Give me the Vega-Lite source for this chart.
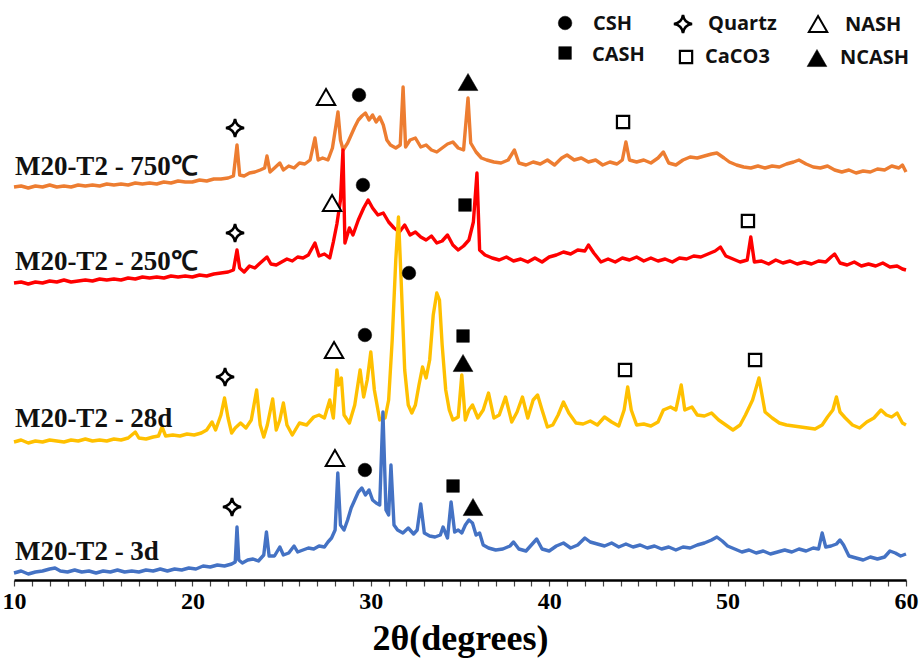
{
  "$schema": "https://vega.github.io/schema/vega-lite/v6.json",
  "width": 892,
  "height": 580,
  "autosize": {"type": "none"},
  "padding": {"left": 14, "top": 0, "right": 13, "bottom": 83},
  "background": "white",
  "config": {"view": {"stroke": null}},
  "datasets": {
    "patterns": [
      {"sample":"750","theta":10.0,"counts":393},{"sample":"750","theta":10.4,"counts":394},{"sample":"750","theta":10.8,"counts":392},{"sample":"750","theta":11.2,"counts":394},{"sample":"750","theta":11.6,"counts":393},{"sample":"750","theta":12.0,"counts":395},{"sample":"750","theta":12.4,"counts":393},{"sample":"750","theta":12.8,"counts":394},{"sample":"750","theta":13.2,"counts":393},{"sample":"750","theta":13.6,"counts":395},{"sample":"750","theta":14.0,"counts":394},{"sample":"750","theta":14.4,"counts":395},{"sample":"750","theta":14.8,"counts":394},{"sample":"750","theta":15.2,"counts":396},{"sample":"750","theta":15.6,"counts":395},{"sample":"750","theta":16.0,"counts":396},{"sample":"750","theta":16.4,"counts":395},{"sample":"750","theta":16.8,"counts":397},{"sample":"750","theta":17.2,"counts":396},{"sample":"750","theta":17.6,"counts":397},{"sample":"750","theta":18.0,"counts":396},{"sample":"750","theta":18.4,"counts":398},{"sample":"750","theta":18.8,"counts":397},{"sample":"750","theta":19.2,"counts":399},{"sample":"750","theta":19.6,"counts":398},{"sample":"750","theta":20.0,"counts":398},{"sample":"750","theta":20.4,"counts":400},{"sample":"750","theta":20.8,"counts":399},{"sample":"750","theta":21.2,"counts":401},{"sample":"750","theta":21.6,"counts":401},{"sample":"750","theta":22.0,"counts":402},{"sample":"750","theta":22.3,"counts":404},{"sample":"750","theta":22.5,"counts":435},{"sample":"750","theta":22.65,"counts":405},{"sample":"750","theta":22.9,"counts":404},{"sample":"750","theta":23.2,"counts":407},{"sample":"750","theta":23.5,"counts":408},{"sample":"750","theta":23.8,"counts":410},{"sample":"750","theta":24.05,"counts":412},{"sample":"750","theta":24.18,"counts":424},{"sample":"750","theta":24.35,"counts":408},{"sample":"750","theta":24.6,"counts":412},{"sample":"750","theta":24.9,"counts":417},{"sample":"750","theta":25.1,"counts":410},{"sample":"750","theta":25.4,"counts":414},{"sample":"750","theta":25.7,"counts":412},{"sample":"750","theta":26.0,"counts":417},{"sample":"750","theta":26.3,"counts":416},{"sample":"750","theta":26.6,"counts":420},{"sample":"750","theta":26.87,"counts":442},{"sample":"750","theta":27.05,"counts":420},{"sample":"750","theta":27.3,"counts":422},{"sample":"750","theta":27.6,"counts":420},{"sample":"750","theta":27.85,"counts":432},{"sample":"750","theta":28.05,"counts":455},{"sample":"750","theta":28.16,"counts":468},{"sample":"750","theta":28.3,"counts":440},{"sample":"750","theta":28.45,"counts":430},{"sample":"750","theta":28.7,"counts":437},{"sample":"750","theta":28.9,"counts":445},{"sample":"750","theta":29.1,"counts":453},{"sample":"750","theta":29.3,"counts":460},{"sample":"750","theta":29.5,"counts":464},{"sample":"750","theta":29.7,"counts":467},{"sample":"750","theta":29.9,"counts":460},{"sample":"750","theta":30.1,"counts":465},{"sample":"750","theta":30.3,"counts":458},{"sample":"750","theta":30.5,"counts":463},{"sample":"750","theta":30.7,"counts":455},{"sample":"750","theta":30.9,"counts":440},{"sample":"750","theta":31.1,"counts":435},{"sample":"750","theta":31.4,"counts":432},{"sample":"750","theta":31.65,"counts":435},{"sample":"750","theta":31.81,"counts":493},{"sample":"750","theta":31.95,"counts":433},{"sample":"750","theta":32.2,"counts":440},{"sample":"750","theta":32.5,"counts":442},{"sample":"750","theta":32.8,"counts":433},{"sample":"750","theta":33.1,"counts":435},{"sample":"750","theta":33.4,"counts":430},{"sample":"750","theta":33.7,"counts":428},{"sample":"750","theta":34.0,"counts":432},{"sample":"750","theta":34.3,"counts":436},{"sample":"750","theta":34.6,"counts":438},{"sample":"750","theta":34.9,"counts":432},{"sample":"750","theta":35.2,"counts":430},{"sample":"750","theta":35.45,"counts":482},{"sample":"750","theta":35.6,"counts":437},{"sample":"750","theta":35.9,"counts":428},{"sample":"750","theta":36.2,"counts":422},{"sample":"750","theta":36.5,"counts":420},{"sample":"750","theta":36.9,"counts":418},{"sample":"750","theta":37.3,"counts":417},{"sample":"750","theta":37.7,"counts":420},{"sample":"750","theta":38.05,"counts":430},{"sample":"750","theta":38.3,"counts":417},{"sample":"750","theta":38.7,"counts":415},{"sample":"750","theta":39.1,"counts":418},{"sample":"750","theta":39.5,"counts":416},{"sample":"750","theta":39.9,"counts":420},{"sample":"750","theta":40.3,"counts":415},{"sample":"750","theta":40.7,"counts":422},{"sample":"750","theta":41.0,"counts":425},{"sample":"750","theta":41.4,"counts":420},{"sample":"750","theta":41.8,"counts":422},{"sample":"750","theta":42.2,"counts":418},{"sample":"750","theta":42.6,"counts":420},{"sample":"750","theta":43.0,"counts":415},{"sample":"750","theta":43.4,"counts":418},{"sample":"750","theta":43.8,"counts":416},{"sample":"750","theta":44.1,"counts":420},{"sample":"750","theta":44.3,"counts":438},{"sample":"750","theta":44.5,"counts":420},{"sample":"750","theta":44.9,"counts":418},{"sample":"750","theta":45.3,"counts":420},{"sample":"750","theta":45.7,"counts":417},{"sample":"750","theta":46.1,"counts":422},{"sample":"750","theta":46.4,"counts":428},{"sample":"750","theta":46.7,"counts":417},{"sample":"750","theta":47.1,"counts":415},{"sample":"750","theta":47.5,"counts":420},{"sample":"750","theta":47.9,"counts":423},{"sample":"750","theta":48.3,"counts":422},{"sample":"750","theta":48.7,"counts":424},{"sample":"750","theta":49.1,"counts":426},{"sample":"750","theta":49.4,"counts":427},{"sample":"750","theta":49.8,"counts":422},{"sample":"750","theta":50.1,"counts":418},{"sample":"750","theta":50.5,"counts":415},{"sample":"750","theta":50.9,"counts":413},{"sample":"750","theta":51.3,"counts":412},{"sample":"750","theta":51.7,"counts":414},{"sample":"750","theta":52.1,"counts":412},{"sample":"750","theta":52.5,"counts":414},{"sample":"750","theta":52.9,"counts":413},{"sample":"750","theta":53.3,"counts":416},{"sample":"750","theta":53.7,"counts":418},{"sample":"750","theta":54.0,"counts":420},{"sample":"750","theta":54.4,"counts":416},{"sample":"750","theta":54.8,"counts":413},{"sample":"750","theta":55.2,"counts":412},{"sample":"750","theta":55.6,"counts":414},{"sample":"750","theta":56.0,"counts":410},{"sample":"750","theta":56.4,"counts":408},{"sample":"750","theta":56.8,"counts":410},{"sample":"750","theta":57.2,"counts":407},{"sample":"750","theta":57.6,"counts":409},{"sample":"750","theta":58.0,"counts":408},{"sample":"750","theta":58.4,"counts":411},{"sample":"750","theta":58.8,"counts":410},{"sample":"750","theta":59.2,"counts":414},{"sample":"750","theta":59.6,"counts":412},{"sample":"750","theta":59.8,"counts":415},{"sample":"750","theta":60.0,"counts":408},

      {"sample":"250","theta":10.0,"counts":297},{"sample":"250","theta":10.4,"counts":298},{"sample":"250","theta":10.8,"counts":296},{"sample":"250","theta":11.2,"counts":298},{"sample":"250","theta":11.6,"counts":297},{"sample":"250","theta":12.0,"counts":299},{"sample":"250","theta":12.4,"counts":298},{"sample":"250","theta":12.8,"counts":300},{"sample":"250","theta":13.2,"counts":298},{"sample":"250","theta":13.6,"counts":299},{"sample":"250","theta":14.0,"counts":300},{"sample":"250","theta":14.4,"counts":299},{"sample":"250","theta":14.8,"counts":301},{"sample":"250","theta":15.2,"counts":300},{"sample":"250","theta":15.6,"counts":301},{"sample":"250","theta":16.0,"counts":300},{"sample":"250","theta":16.4,"counts":302},{"sample":"250","theta":16.8,"counts":301},{"sample":"250","theta":17.2,"counts":303},{"sample":"250","theta":17.6,"counts":302},{"sample":"250","theta":18.0,"counts":303},{"sample":"250","theta":18.4,"counts":302},{"sample":"250","theta":18.8,"counts":304},{"sample":"250","theta":19.2,"counts":303},{"sample":"250","theta":19.6,"counts":304},{"sample":"250","theta":20.0,"counts":303},{"sample":"250","theta":20.4,"counts":305},{"sample":"250","theta":20.8,"counts":304},{"sample":"250","theta":21.2,"counts":306},{"sample":"250","theta":21.6,"counts":307},{"sample":"250","theta":22.0,"counts":308},{"sample":"250","theta":22.3,"counts":310},{"sample":"250","theta":22.5,"counts":330},{"sample":"250","theta":22.65,"counts":312},{"sample":"250","theta":22.9,"counts":308},{"sample":"250","theta":23.2,"counts":314},{"sample":"250","theta":23.5,"counts":312},{"sample":"250","theta":23.8,"counts":317},{"sample":"250","theta":24.18,"counts":323},{"sample":"250","theta":24.4,"counts":316},{"sample":"250","theta":24.7,"counts":315},{"sample":"250","theta":25.0,"counts":318},{"sample":"250","theta":25.3,"counts":321},{"sample":"250","theta":25.6,"counts":319},{"sample":"250","theta":25.9,"counts":323},{"sample":"250","theta":26.2,"counts":322},{"sample":"250","theta":26.5,"counts":325},{"sample":"250","theta":26.87,"counts":337},{"sample":"250","theta":27.1,"counts":324},{"sample":"250","theta":27.4,"counts":326},{"sample":"250","theta":27.7,"counts":322},{"sample":"250","theta":27.9,"counts":338},{"sample":"250","theta":28.1,"counts":356},{"sample":"250","theta":28.3,"counts":380},{"sample":"250","theta":28.44,"counts":430},{"sample":"250","theta":28.55,"counts":337},{"sample":"250","theta":28.8,"counts":352},{"sample":"250","theta":29.0,"counts":345},{"sample":"250","theta":29.3,"counts":360},{"sample":"250","theta":29.6,"counts":372},{"sample":"250","theta":29.85,"counts":380},{"sample":"250","theta":30.1,"counts":372},{"sample":"250","theta":30.4,"counts":365},{"sample":"250","theta":30.7,"counts":367},{"sample":"250","theta":31.0,"counts":358},{"sample":"250","theta":31.3,"counts":352},{"sample":"250","theta":31.6,"counts":348},{"sample":"250","theta":31.9,"counts":355},{"sample":"250","theta":32.2,"counts":345},{"sample":"250","theta":32.5,"counts":348},{"sample":"250","theta":32.8,"counts":343},{"sample":"250","theta":33.1,"counts":340},{"sample":"250","theta":33.4,"counts":344},{"sample":"250","theta":33.7,"counts":337},{"sample":"250","theta":34.0,"counts":339},{"sample":"250","theta":34.3,"counts":345},{"sample":"250","theta":34.6,"counts":335},{"sample":"250","theta":34.9,"counts":330},{"sample":"250","theta":35.2,"counts":334},{"sample":"250","theta":35.5,"counts":340},{"sample":"250","theta":35.75,"counts":358},{"sample":"250","theta":35.95,"counts":407},{"sample":"250","theta":36.1,"counts":330},{"sample":"250","theta":36.4,"counts":325},{"sample":"250","theta":36.8,"counts":322},{"sample":"250","theta":37.2,"counts":320},{"sample":"250","theta":37.6,"counts":323},{"sample":"250","theta":38.0,"counts":319},{"sample":"250","theta":38.4,"counts":321},{"sample":"250","theta":38.8,"counts":318},{"sample":"250","theta":39.2,"counts":322},{"sample":"250","theta":39.6,"counts":318},{"sample":"250","theta":40.0,"counts":323},{"sample":"250","theta":40.4,"counts":325},{"sample":"250","theta":40.8,"counts":328},{"sample":"250","theta":41.2,"counts":326},{"sample":"250","theta":41.6,"counts":330},{"sample":"250","theta":42.0,"counts":329},{"sample":"250","theta":42.2,"counts":335},{"sample":"250","theta":42.5,"counts":327},{"sample":"250","theta":42.9,"counts":318},{"sample":"250","theta":43.3,"counts":321},{"sample":"250","theta":43.7,"counts":318},{"sample":"250","theta":44.1,"counts":322},{"sample":"250","theta":44.5,"counts":320},{"sample":"250","theta":44.9,"counts":323},{"sample":"250","theta":45.3,"counts":319},{"sample":"250","theta":45.7,"counts":322},{"sample":"250","theta":46.1,"counts":319},{"sample":"250","theta":46.5,"counts":321},{"sample":"250","theta":46.9,"counts":318},{"sample":"250","theta":47.3,"counts":322},{"sample":"250","theta":47.7,"counts":321},{"sample":"250","theta":48.1,"counts":324},{"sample":"250","theta":48.5,"counts":323},{"sample":"250","theta":48.9,"counts":326},{"sample":"250","theta":49.3,"counts":329},{"sample":"250","theta":49.6,"counts":333},{"sample":"250","theta":49.9,"counts":324},{"sample":"250","theta":50.3,"counts":321},{"sample":"250","theta":50.7,"counts":318},{"sample":"250","theta":51.1,"counts":320},{"sample":"250","theta":51.3,"counts":343},{"sample":"250","theta":51.5,"counts":318},{"sample":"250","theta":51.9,"counts":319},{"sample":"250","theta":52.3,"counts":316},{"sample":"250","theta":52.7,"counts":320},{"sample":"250","theta":53.1,"counts":317},{"sample":"250","theta":53.5,"counts":319},{"sample":"250","theta":53.9,"counts":316},{"sample":"250","theta":54.3,"counts":318},{"sample":"250","theta":54.7,"counts":316},{"sample":"250","theta":55.1,"counts":319},{"sample":"250","theta":55.5,"counts":318},{"sample":"250","theta":55.8,"counts":323},{"sample":"250","theta":56.0,"counts":326},{"sample":"250","theta":56.3,"counts":317},{"sample":"250","theta":56.7,"counts":315},{"sample":"250","theta":57.1,"counts":318},{"sample":"250","theta":57.5,"counts":314},{"sample":"250","theta":57.9,"counts":316},{"sample":"250","theta":58.3,"counts":314},{"sample":"250","theta":58.7,"counts":317},{"sample":"250","theta":59.1,"counts":313},{"sample":"250","theta":59.5,"counts":314},{"sample":"250","theta":59.8,"counts":311},{"sample":"250","theta":60.0,"counts":310},

      {"sample":"28d","theta":10.0,"counts":138},{"sample":"28d","theta":10.4,"counts":140},{"sample":"28d","theta":10.8,"counts":137},{"sample":"28d","theta":11.2,"counts":139},{"sample":"28d","theta":11.6,"counts":138},{"sample":"28d","theta":12.0,"counts":140},{"sample":"28d","theta":12.4,"counts":139},{"sample":"28d","theta":12.8,"counts":138},{"sample":"28d","theta":13.2,"counts":140},{"sample":"28d","theta":13.6,"counts":139},{"sample":"28d","theta":14.0,"counts":141},{"sample":"28d","theta":14.4,"counts":139},{"sample":"28d","theta":14.8,"counts":140},{"sample":"28d","theta":15.2,"counts":139},{"sample":"28d","theta":15.6,"counts":141},{"sample":"28d","theta":16.0,"counts":140},{"sample":"28d","theta":16.4,"counts":142},{"sample":"28d","theta":16.8,"counts":148},{"sample":"28d","theta":17.0,"counts":142},{"sample":"28d","theta":17.4,"counts":141},{"sample":"28d","theta":17.8,"counts":143},{"sample":"28d","theta":18.1,"counts":144},{"sample":"28d","theta":18.3,"counts":153},{"sample":"28d","theta":18.5,"counts":144},{"sample":"28d","theta":18.9,"counts":145},{"sample":"28d","theta":19.3,"counts":144},{"sample":"28d","theta":19.7,"counts":146},{"sample":"28d","theta":20.1,"counts":145},{"sample":"28d","theta":20.5,"counts":147},{"sample":"28d","theta":20.8,"counts":150},{"sample":"28d","theta":21.1,"counts":158},{"sample":"28d","theta":21.3,"counts":150},{"sample":"28d","theta":21.6,"counts":165},{"sample":"28d","theta":21.8,"counts":182},{"sample":"28d","theta":22.0,"counts":162},{"sample":"28d","theta":22.2,"counts":147},{"sample":"28d","theta":22.4,"counts":152},{"sample":"28d","theta":22.7,"counts":157},{"sample":"28d","theta":23.0,"counts":152},{"sample":"28d","theta":23.3,"counts":160},{"sample":"28d","theta":23.6,"counts":190},{"sample":"28d","theta":23.8,"counts":155},{"sample":"28d","theta":24.0,"counts":143},{"sample":"28d","theta":24.2,"counts":155},{"sample":"28d","theta":24.5,"counts":181},{"sample":"28d","theta":24.7,"counts":150},{"sample":"28d","theta":24.9,"counts":160},{"sample":"28d","theta":25.1,"counts":177},{"sample":"28d","theta":25.3,"counts":155},{"sample":"28d","theta":25.6,"counts":145},{"sample":"28d","theta":26.0,"counts":157},{"sample":"28d","theta":26.4,"counts":155},{"sample":"28d","theta":26.8,"counts":163},{"sample":"28d","theta":27.1,"counts":165},{"sample":"28d","theta":27.4,"counts":162},{"sample":"28d","theta":27.7,"counts":180},{"sample":"28d","theta":27.9,"counts":162},{"sample":"28d","theta":28.1,"counts":210},{"sample":"28d","theta":28.2,"counts":195},{"sample":"28d","theta":28.35,"counts":202},{"sample":"28d","theta":28.5,"counts":165},{"sample":"28d","theta":28.8,"counts":157},{"sample":"28d","theta":29.1,"counts":175},{"sample":"28d","theta":29.4,"counts":210},{"sample":"28d","theta":29.6,"counts":183},{"sample":"28d","theta":29.8,"counts":200},{"sample":"28d","theta":30.0,"counts":228},{"sample":"28d","theta":30.2,"counts":190},{"sample":"28d","theta":30.5,"counts":160},{"sample":"28d","theta":30.8,"counts":162},{"sample":"28d","theta":31.0,"counts":180},{"sample":"28d","theta":31.2,"counts":240},{"sample":"28d","theta":31.4,"counts":320},{"sample":"28d","theta":31.55,"counts":363},{"sample":"28d","theta":31.7,"counts":300},{"sample":"28d","theta":31.9,"counts":210},{"sample":"28d","theta":32.1,"counts":175},{"sample":"28d","theta":32.3,"counts":167},{"sample":"28d","theta":32.5,"counts":175},{"sample":"28d","theta":32.7,"counts":195},{"sample":"28d","theta":32.9,"counts":213},{"sample":"28d","theta":33.1,"counts":202},{"sample":"28d","theta":33.3,"counts":220},{"sample":"28d","theta":33.5,"counts":265},{"sample":"28d","theta":33.7,"counts":287},{"sample":"28d","theta":33.85,"counts":280},{"sample":"28d","theta":34.0,"counts":235},{"sample":"28d","theta":34.2,"counts":190},{"sample":"28d","theta":34.4,"counts":170},{"sample":"28d","theta":34.6,"counts":160},{"sample":"28d","theta":34.9,"counts":163},{"sample":"28d","theta":35.1,"counts":205},{"sample":"28d","theta":35.3,"counts":160},{"sample":"28d","theta":35.5,"counts":170},{"sample":"28d","theta":35.7,"counts":175},{"sample":"28d","theta":36.0,"counts":162},{"sample":"28d","theta":36.3,"counts":170},{"sample":"28d","theta":36.6,"counts":187},{"sample":"28d","theta":36.9,"counts":162},{"sample":"28d","theta":37.2,"counts":165},{"sample":"28d","theta":37.55,"counts":183},{"sample":"28d","theta":37.9,"counts":158},{"sample":"28d","theta":38.2,"counts":168},{"sample":"28d","theta":38.5,"counts":183},{"sample":"28d","theta":38.8,"counts":162},{"sample":"28d","theta":39.1,"counts":180},{"sample":"28d","theta":39.35,"counts":185},{"sample":"28d","theta":39.6,"counts":170},{"sample":"28d","theta":39.9,"counts":153},{"sample":"28d","theta":40.2,"counts":155},{"sample":"28d","theta":40.5,"counts":165},{"sample":"28d","theta":40.8,"counts":178},{"sample":"28d","theta":41.1,"counts":167},{"sample":"28d","theta":41.5,"counts":157},{"sample":"28d","theta":41.9,"counts":156},{"sample":"28d","theta":42.3,"counts":159},{"sample":"28d","theta":42.7,"counts":155},{"sample":"28d","theta":43.1,"counts":163},{"sample":"28d","theta":43.5,"counts":158},{"sample":"28d","theta":43.9,"counts":154},{"sample":"28d","theta":44.2,"counts":170},{"sample":"28d","theta":44.4,"counts":193},{"sample":"28d","theta":44.6,"counts":170},{"sample":"28d","theta":44.9,"counts":155},{"sample":"28d","theta":45.3,"counts":156},{"sample":"28d","theta":45.7,"counts":154},{"sample":"28d","theta":46.1,"counts":158},{"sample":"28d","theta":46.4,"counts":170},{"sample":"28d","theta":46.8,"counts":173},{"sample":"28d","theta":47.1,"counts":170},{"sample":"28d","theta":47.4,"counts":195},{"sample":"28d","theta":47.6,"counts":170},{"sample":"28d","theta":48.0,"counts":173},{"sample":"28d","theta":48.3,"counts":165},{"sample":"28d","theta":48.7,"counts":164},{"sample":"28d","theta":49.1,"counts":167},{"sample":"28d","theta":49.5,"counts":160},{"sample":"28d","theta":49.9,"counts":155},{"sample":"28d","theta":50.3,"counts":150},{"sample":"28d","theta":50.7,"counts":155},{"sample":"28d","theta":51.0,"counts":165},{"sample":"28d","theta":51.4,"counts":180},{"sample":"28d","theta":51.76,"counts":202},{"sample":"28d","theta":52.1,"counts":168},{"sample":"28d","theta":52.5,"counts":162},{"sample":"28d","theta":52.9,"counts":157},{"sample":"28d","theta":53.3,"counts":155},{"sample":"28d","theta":53.7,"counts":154},{"sample":"28d","theta":54.1,"counts":153},{"sample":"28d","theta":54.5,"counts":152},{"sample":"28d","theta":54.9,"counts":151},{"sample":"28d","theta":55.3,"counts":155},{"sample":"28d","theta":55.6,"counts":163},{"sample":"28d","theta":55.9,"counts":170},{"sample":"28d","theta":56.1,"counts":183},{"sample":"28d","theta":56.3,"counts":168},{"sample":"28d","theta":56.6,"counts":162},{"sample":"28d","theta":57.0,"counts":155},{"sample":"28d","theta":57.4,"counts":152},{"sample":"28d","theta":57.8,"counts":158},{"sample":"28d","theta":58.2,"counts":162},{"sample":"28d","theta":58.6,"counts":170},{"sample":"28d","theta":58.9,"counts":165},{"sample":"28d","theta":59.2,"counts":163},{"sample":"28d","theta":59.5,"counts":167},{"sample":"28d","theta":59.8,"counts":157},{"sample":"28d","theta":60.0,"counts":155},

      {"sample":"3d","theta":10.0,"counts":7},{"sample":"3d","theta":10.4,"counts":9},{"sample":"3d","theta":10.8,"counts":6},{"sample":"3d","theta":11.2,"counts":8},{"sample":"3d","theta":11.6,"counts":9},{"sample":"3d","theta":12.0,"counts":11},{"sample":"3d","theta":12.3,"counts":12},{"sample":"3d","theta":12.6,"counts":9},{"sample":"3d","theta":13.0,"counts":8},{"sample":"3d","theta":13.4,"counts":10},{"sample":"3d","theta":13.8,"counts":8},{"sample":"3d","theta":14.2,"counts":9},{"sample":"3d","theta":14.6,"counts":7},{"sample":"3d","theta":15.0,"counts":9},{"sample":"3d","theta":15.4,"counts":8},{"sample":"3d","theta":15.8,"counts":10},{"sample":"3d","theta":16.2,"counts":8},{"sample":"3d","theta":16.6,"counts":9},{"sample":"3d","theta":17.0,"counts":8},{"sample":"3d","theta":17.4,"counts":10},{"sample":"3d","theta":17.8,"counts":9},{"sample":"3d","theta":18.2,"counts":11},{"sample":"3d","theta":18.6,"counts":9},{"sample":"3d","theta":19.0,"counts":11},{"sample":"3d","theta":19.4,"counts":10},{"sample":"3d","theta":19.8,"counts":12},{"sample":"3d","theta":20.2,"counts":11},{"sample":"3d","theta":20.6,"counts":14},{"sample":"3d","theta":21.0,"counts":13},{"sample":"3d","theta":21.4,"counts":15},{"sample":"3d","theta":21.8,"counts":14},{"sample":"3d","theta":22.2,"counts":16},{"sample":"3d","theta":22.4,"counts":18},{"sample":"3d","theta":22.5,"counts":53},{"sample":"3d","theta":22.6,"counts":20},{"sample":"3d","theta":22.8,"counts":17},{"sample":"3d","theta":23.1,"counts":20},{"sample":"3d","theta":23.4,"counts":21},{"sample":"3d","theta":23.7,"counts":19},{"sample":"3d","theta":24.0,"counts":25},{"sample":"3d","theta":24.15,"counts":48},{"sample":"3d","theta":24.3,"counts":24},{"sample":"3d","theta":24.6,"counts":24},{"sample":"3d","theta":24.9,"counts":33},{"sample":"3d","theta":25.1,"counts":25},{"sample":"3d","theta":25.4,"counts":27},{"sample":"3d","theta":25.7,"counts":34},{"sample":"3d","theta":25.9,"counts":28},{"sample":"3d","theta":26.2,"counts":30},{"sample":"3d","theta":26.5,"counts":32},{"sample":"3d","theta":26.8,"counts":31},{"sample":"3d","theta":27.1,"counts":34},{"sample":"3d","theta":27.4,"counts":33},{"sample":"3d","theta":27.6,"counts":38},{"sample":"3d","theta":27.8,"counts":42},{"sample":"3d","theta":28.0,"counts":50},{"sample":"3d","theta":28.15,"counts":107},{"sample":"3d","theta":28.3,"counts":55},{"sample":"3d","theta":28.5,"counts":50},{"sample":"3d","theta":28.7,"counts":60},{"sample":"3d","theta":28.9,"counts":72},{"sample":"3d","theta":29.1,"counts":80},{"sample":"3d","theta":29.3,"counts":88},{"sample":"3d","theta":29.5,"counts":92},{"sample":"3d","theta":29.7,"counts":85},{"sample":"3d","theta":29.9,"counts":90},{"sample":"3d","theta":30.1,"counts":80},{"sample":"3d","theta":30.3,"counts":77},{"sample":"3d","theta":30.5,"counts":75},{"sample":"3d","theta":30.68,"counts":168},{"sample":"3d","theta":30.85,"counts":70},{"sample":"3d","theta":31.0,"counts":65},{"sample":"3d","theta":31.13,"counts":115},{"sample":"3d","theta":31.3,"counts":55},{"sample":"3d","theta":31.5,"counts":50},{"sample":"3d","theta":31.8,"counts":47},{"sample":"3d","theta":32.1,"counts":52},{"sample":"3d","theta":32.4,"counts":46},{"sample":"3d","theta":32.6,"counts":50},{"sample":"3d","theta":32.8,"counts":76},{"sample":"3d","theta":33.0,"counts":47},{"sample":"3d","theta":33.3,"counts":44},{"sample":"3d","theta":33.6,"counts":43},{"sample":"3d","theta":33.9,"counts":45},{"sample":"3d","theta":34.05,"counts":53},{"sample":"3d","theta":34.3,"counts":42},{"sample":"3d","theta":34.5,"counts":78},{"sample":"3d","theta":34.7,"counts":48},{"sample":"3d","theta":34.9,"counts":50},{"sample":"3d","theta":35.1,"counts":47},{"sample":"3d","theta":35.3,"counts":55},{"sample":"3d","theta":35.5,"counts":60},{"sample":"3d","theta":35.7,"counts":57},{"sample":"3d","theta":35.9,"counts":45},{"sample":"3d","theta":36.1,"counts":47},{"sample":"3d","theta":36.3,"counts":35},{"sample":"3d","theta":36.6,"counts":32},{"sample":"3d","theta":37.0,"counts":30},{"sample":"3d","theta":37.4,"counts":31},{"sample":"3d","theta":37.8,"counts":34},{"sample":"3d","theta":38.0,"counts":38},{"sample":"3d","theta":38.3,"counts":31},{"sample":"3d","theta":38.7,"counts":29},{"sample":"3d","theta":39.0,"counts":35},{"sample":"3d","theta":39.3,"counts":41},{"sample":"3d","theta":39.6,"counts":31},{"sample":"3d","theta":40.0,"counts":29},{"sample":"3d","theta":40.4,"counts":34},{"sample":"3d","theta":40.8,"counts":37},{"sample":"3d","theta":41.2,"counts":32},{"sample":"3d","theta":41.6,"counts":35},{"sample":"3d","theta":42.0,"counts":42},{"sample":"3d","theta":42.3,"counts":38},{"sample":"3d","theta":42.7,"counts":36},{"sample":"3d","theta":43.1,"counts":34},{"sample":"3d","theta":43.5,"counts":37},{"sample":"3d","theta":43.9,"counts":33},{"sample":"3d","theta":44.3,"counts":36},{"sample":"3d","theta":44.7,"counts":33},{"sample":"3d","theta":45.1,"counts":35},{"sample":"3d","theta":45.5,"counts":32},{"sample":"3d","theta":45.9,"counts":34},{"sample":"3d","theta":46.3,"counts":31},{"sample":"3d","theta":46.7,"counts":33},{"sample":"3d","theta":47.1,"counts":30},{"sample":"3d","theta":47.5,"counts":33},{"sample":"3d","theta":47.9,"counts":32},{"sample":"3d","theta":48.3,"counts":35},{"sample":"3d","theta":48.7,"counts":37},{"sample":"3d","theta":49.1,"counts":40},{"sample":"3d","theta":49.4,"counts":43},{"sample":"3d","theta":49.7,"counts":39},{"sample":"3d","theta":50.0,"counts":34},{"sample":"3d","theta":50.4,"counts":31},{"sample":"3d","theta":50.8,"counts":28},{"sample":"3d","theta":51.2,"counts":30},{"sample":"3d","theta":51.6,"counts":27},{"sample":"3d","theta":52.0,"counts":29},{"sample":"3d","theta":52.4,"counts":26},{"sample":"3d","theta":52.8,"counts":28},{"sample":"3d","theta":53.2,"counts":30},{"sample":"3d","theta":53.6,"counts":28},{"sample":"3d","theta":54.0,"counts":31},{"sample":"3d","theta":54.4,"counts":29},{"sample":"3d","theta":54.8,"counts":32},{"sample":"3d","theta":55.1,"counts":31},{"sample":"3d","theta":55.3,"counts":47},{"sample":"3d","theta":55.5,"counts":33},{"sample":"3d","theta":55.8,"counts":34},{"sample":"3d","theta":56.1,"counts":36},{"sample":"3d","theta":56.3,"counts":40},{"sample":"3d","theta":56.5,"counts":35},{"sample":"3d","theta":56.8,"counts":24},{"sample":"3d","theta":57.2,"counts":22},{"sample":"3d","theta":57.6,"counts":20},{"sample":"3d","theta":58.0,"counts":23},{"sample":"3d","theta":58.4,"counts":21},{"sample":"3d","theta":58.8,"counts":23},{"sample":"3d","theta":59.1,"counts":29},{"sample":"3d","theta":59.4,"counts":27},{"sample":"3d","theta":59.7,"counts":24},{"sample":"3d","theta":60.0,"counts":26}
    ],
    "labels": [
      {"label":"M20-T2 - 750℃","theta":10.05,"counts":405},
      {"label":"M20-T2 - 250℃","theta":10.05,"counts":310},
      {"label":"M20-T2 - 28d","theta":10.05,"counts":153},
      {"label":"M20-T2 - 3d","theta":10.05,"counts":20}
    ],
    "markers": [
      {"phase":"Quartz","theta":22.39,"counts":452},{"phase":"NASH","theta":27.49,"counts":483},{"phase":"CSH","theta":29.34,"counts":485},{"phase":"NCASH","theta":35.45,"counts":498},{"phase":"CaCO3","theta":44.14,"counts":458},
      {"phase":"Quartz","theta":22.39,"counts":347},{"phase":"NASH","theta":27.83,"counts":377},{"phase":"CSH","theta":29.56,"counts":395},{"phase":"CASH","theta":35.28,"counts":375},{"phase":"CaCO3","theta":51.14,"counts":359},
      {"phase":"Quartz","theta":21.83,"counts":203},{"phase":"NASH","theta":27.94,"counts":230},{"phase":"CSH","theta":29.67,"counts":245},{"phase":"CSH","theta":32.14,"counts":307},{"phase":"CASH","theta":35.17,"counts":244},{"phase":"NCASH","theta":35.17,"counts":217},{"phase":"CaCO3","theta":44.25,"counts":210},{"phase":"CaCO3","theta":51.54,"counts":220},
      {"phase":"Quartz","theta":22.22,"counts":73},{"phase":"NASH","theta":27.99,"counts":122},{"phase":"CSH","theta":29.67,"counts":110},{"phase":"CASH","theta":34.61,"counts":94},{"phase":"NCASH","theta":35.73,"counts":73},
      {"phase":"CSH","theta":40.89,"counts":557},{"phase":"CASH","theta":40.89,"counts":527},{"phase":"Quartz","theta":47.5,"counts":556},{"phase":"CaCO3","theta":47.67,"counts":523},{"phase":"NASH","theta":55.07,"counts":556},{"phase":"NCASH","theta":55.01,"counts":522}
    ],
    "legendText": [
      {"name":"CSH","theta":42.46,"counts":556},{"name":"CASH","theta":42.4,"counts":525},{"name":"Quartz","theta":48.9,"counts":556},{"name":"CaCO3","theta":48.73,"counts":523},{"name":"NASH","theta":56.58,"counts":555},{"name":"NCASH","theta":56.3,"counts":522}
    ]
  },
  "encoding": {
    "x": {
      "field": "theta", "type": "quantitative",
      "scale": {"domain": [10, 60], "nice": false, "zero": false},
      "axis": {
        "title": "2θ(degrees)",
        "titleFont": "Liberation Serif", "titleFontSize": 36, "titleFontWeight": "bold", "titleColor": "black", "titlePadding": 8,
        "labelFont": "Liberation Serif", "labelFontSize": 24, "labelFontWeight": "bold", "labelColor": "black", "labelPadding": 3,
        "labelOverlap": false, "labelBound": false, "labelFlush": false,
        "values": [10,11,12,13,14,15,16,17,18,19,20,21,22,23,24,25,26,27,28,29,30,31,32,33,34,35,36,37,38,39,40,41,42,43,44,45,46,47,48,49,50,51,52,53,54,55,56,57,58,59,60],
        "labelExpr": "datum.value % 10 === 0 ? datum.label : ''",
        "domainColor": "black", "domainWidth": 2.5,
        "tickColor": "#444444", "tickSize": 6, "tickWidth": 1.2,
        "grid": false
      }
    },
    "y": {
      "field": "counts", "type": "quantitative",
      "scale": {"domain": [0, 580], "nice": false, "zero": false},
      "axis": null
    }
  },
  "layer": [
    {
      "data": {"name": "patterns"},
      "mark": {"type": "line", "strokeWidth": 3.4, "interpolate": "linear", "strokeJoin": "round"},
      "encoding": {
        "color": {
          "field": "sample", "type": "nominal",
          "scale": {"domain": ["750", "250", "28d", "3d"], "range": ["#ED7D31", "#FF0000", "#FFC000", "#4472C4"]},
          "legend": null
        }
      }
    },
    {
      "data": {"name": "labels"},
      "mark": {"type": "text", "align": "left", "baseline": "alphabetic", "font": "Liberation Serif", "fontSize": 27, "fontWeight": "bold", "color": "#111111"},
      "encoding": {"text": {"field": "label"}}
    },
    {
      "data": {"name": "markers"},
      "mark": {"type": "point", "filled": true, "stroke": "black", "opacity": 1},
      "encoding": {
        "shape": {
          "field": "phase", "type": "nominal",
          "scale": {
            "type": "ordinal",
            "domain": ["CSH", "CASH", "Quartz", "CaCO3", "NASH", "NCASH"],
            "range": ["circle", "square", "M0,-1Q0.12,-0.12,1,0Q0.12,0.12,0,1Q-0.12,0.12,-1,0Q-0.12,-0.12,0,-1Z", "square", "triangle-up", "triangle-up"]
          },
          "legend": null
        },
        "fill": {
          "field": "phase", "type": "nominal",
          "scale": {
            "type": "ordinal",
            "domain": ["CSH", "CASH", "Quartz", "CaCO3", "NASH", "NCASH"],
            "range": ["black", "black", "white", "white", "white", "black"]
          },
          "legend": null
        },
        "size": {
          "field": "phase", "type": "nominal",
          "scale": {
            "type": "ordinal",
            "domain": ["CSH", "CASH", "Quartz", "CaCO3", "NASH", "NCASH"],
            "range": [185, 160, 330, 150, 340, 390]
          },
          "legend": null
        },
        "strokeWidth": {
          "field": "phase", "type": "nominal",
          "scale": {
            "type": "ordinal",
            "domain": ["CSH", "CASH", "Quartz", "CaCO3", "NASH", "NCASH"],
            "range": [0.5, 0.5, 2.6, 2.2, 2, 0.5]
          },
          "legend": null
        }
      }
    },
    {
      "data": {"name": "legendText"},
      "mark": {"type": "text", "align": "left", "baseline": "middle", "font": "Open Sans", "fontSize": 20, "fontWeight": "bold", "color": "#111111"},
      "encoding": {"text": {"field": "name"}}
    }
  ]
}
